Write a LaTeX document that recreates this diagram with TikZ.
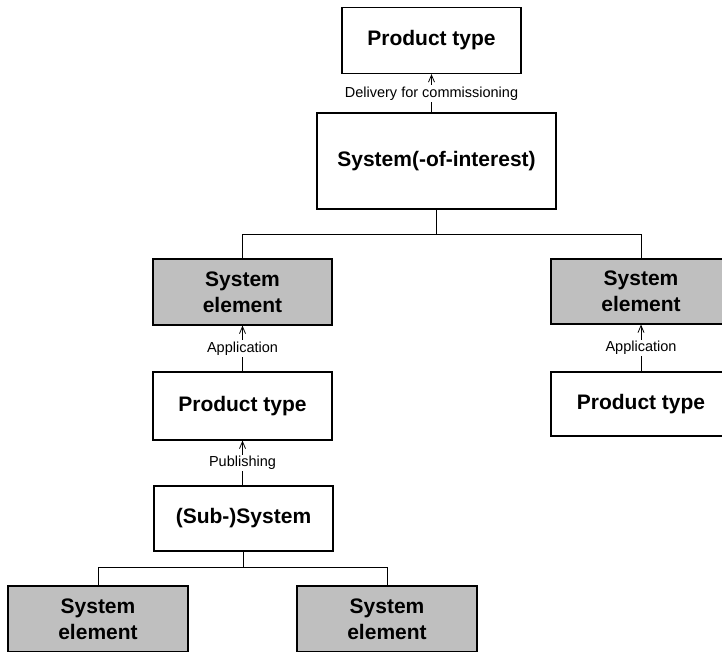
\documentclass[tikz,border=0pt]{standalone}
\usepackage{fontspec}
\setmainfont{Liberation Sans}
\usetikzlibrary{arrows.meta}
\begin{document}
\begin{tikzpicture}[x=1pt,y=-1pt,
  box/.style={draw=black, line width=1.2pt, fill=white, inner sep=0pt,
    align=center, font=\fontsize{21}{26}\selectfont\bfseries},
  grey/.style={box, fill=black!25},
  link/.style={line width=0.8pt},
  uses/.style={link, -{Straight Barb[length=7pt,width=6pt,line width=0.8pt]}},
  lbl/.style={fill=white, inner sep=1.5pt, font=\fontsize{14.5}{16}\selectfont}]
\useasboundingbox (0,0) rectangle (722,651);
\clip (0,0) rectangle (722,651);

% upper part: system of interest and its delivered product type
\node[box, minimum width=179pt, minimum height=66pt] (pt0) at (431.5,40.5) {Product type};
\node[box, minimum width=239pt, minimum height=96pt] (soi) at (436.5,161) {System(-of-interest)};

% first level of system elements
\node[grey, minimum width=179pt, minimum height=66pt] (se1) at (242.5,292) {System\\element};
\node[grey, minimum width=180pt, minimum height=65pt] (se2) at (641,291.5) {System\\element};

% product types applied as elements
\node[box, minimum width=179pt, minimum height=68pt] (pt1) at (242.5,406) {Product type};
\node[box, minimum width=180pt, minimum height=64pt] (pt2) at (641,404) {Product type};

% sub-system and its elements
\node[box, minimum width=179pt, minimum height=65pt] (sub) at (243.5,518.5) {(Sub-)System};
\node[grey, minimum width=180pt, minimum height=66pt] (se3) at (98,619) {System\\element};
\node[grey, minimum width=180pt, minimum height=66pt] (se4) at (387,619) {System\\element};

% decomposition trees
\draw[link] (soi.south) -- ++(0,25) coordinate (j1) -| (se1.north);
\draw[link] (j1) -| (se2.north);
\draw[link] (sub.south) -- ++(0,16) coordinate (j2) -| (se3.north);
\draw[link] (j2) -| (se4.north);

% dependency arrows with labels
\draw[uses] (soi.north -| pt0.south) -- (pt0.south) node[lbl, midway] {Delivery for commissioning};
\draw[uses] (pt1.north) -- (se1.south) node[lbl, midway] {Application};
\draw[uses] (pt2.north) -- (se2.south) node[lbl, midway] {Application};
\draw[uses] (sub.north -| pt1.south) -- (pt1.south) node[lbl, midway] {Publishing};
\end{tikzpicture}
\end{document}
